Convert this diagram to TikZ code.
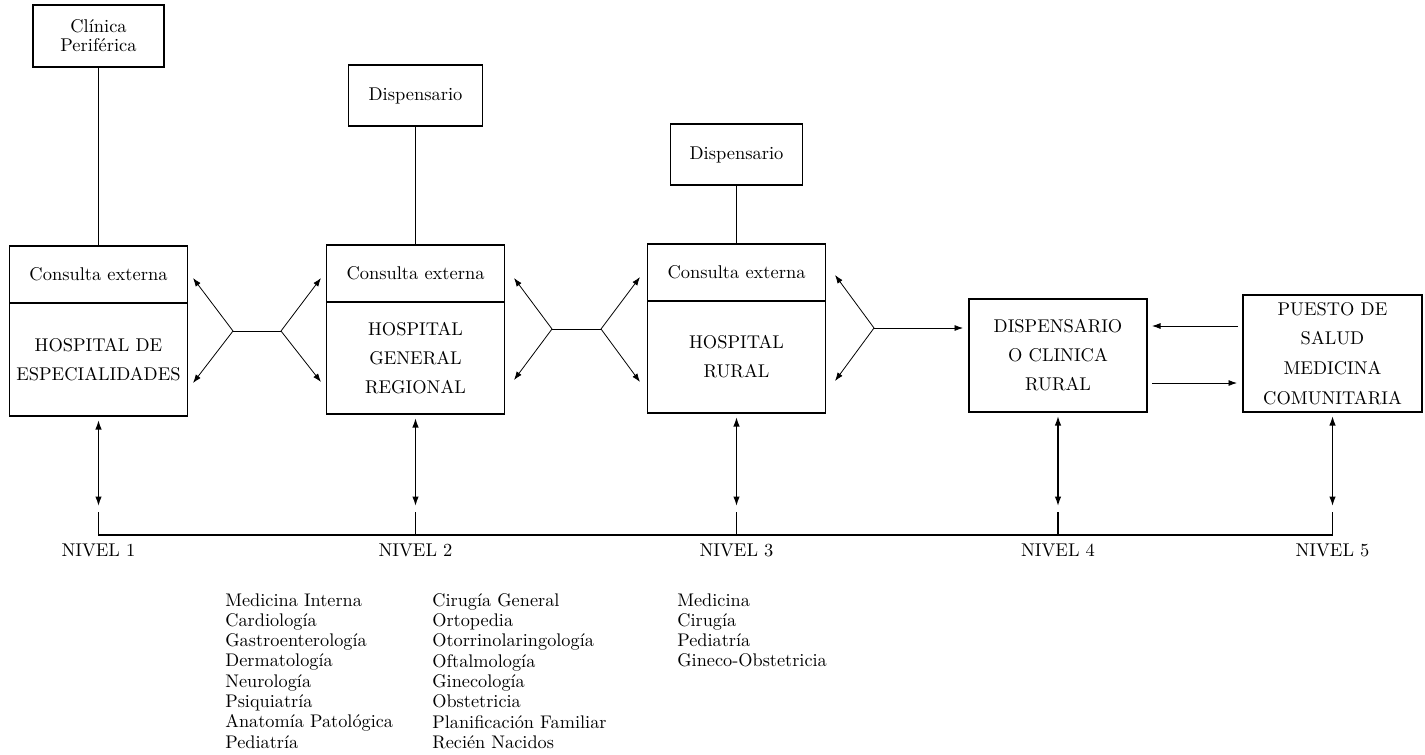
\documentclass[tikz,border=0pt]{standalone}
\usepackage{tikz}
\usetikzlibrary{arrows.meta,positioning}

\begin{document}
\begin{tikzpicture}[x=0.02cm, y=-0.02cm, every node/.style={font=\fontsize{10.5}{12}\selectfont}, box/.style={draw, line width=0.7pt, outer sep=0pt, inner sep=1pt, align=center}, unit/.style={box, minimum width=3.56cm}, topbox/.style={box, minimum height=1.22cm}, caps/.style={font=\fontsize{10.5}{16.5}\selectfont}, link/.style={line width=0.45pt}, arr/.style={-{Latex[length=1.7mm,width=1.2mm]}, line width=0.45pt}, dbl/.style={{Latex[length=1.9mm,width=1.3mm]}-{Latex[length=1.9mm,width=1.3mm]}, line width=0.8pt, shorten <=2.3pt, shorten >=3.4pt}, level/.style={line width=0.9pt}, list/.style={anchor=north west, align=left, inner sep=0pt, font=\fontsize{10.4}{11.55}\selectfont}]
\useasboundingbox (0,0) rectangle (1425,754);
\node[topbox, minimum width=2.62cm, minimum height=1.24cm, font=\fontsize{10.5}{10.8}\selectfont] (cp) at (98.5,36) {Clínica\\Periférica};
\node[topbox, minimum width=2.68cm] (ds2) at (415.5,95.5) {Dispensario};
\node[topbox, minimum width=2.64cm] (ds3) at (736.5,154.5) {Dispensario};
\node[unit, minimum height=1.14cm] (ce1) at (98.5,274.5) {Consulta externa};
\node[unit, caps, minimum height=2.26cm, below=0pt of ce1] (h1) {HOSPITAL DE\\ESPECIALIDADES};
\node[unit, minimum height=1.14cm] (ce2) at (415.5,273.5) {Consulta externa};
\node[unit, caps, minimum height=2.24cm, below=0pt of ce2] (h2) {HOSPITAL\\GENERAL\\REGIONAL};
\node[unit, minimum height=1.14cm] (ce3) at (736.5,272.5) {Consulta externa};
\node[unit, caps, minimum height=2.24cm, below=0pt of ce3] (h3) {HOSPITAL\\RURAL};
\node[unit, caps, minimum height=2.26cm] (d4) at (1058,355.5) {DISPENSARIO\\O CLINICA\\RURAL};
\node[unit, minimum width=3.58cm, minimum height=2.34cm, font=\fontsize{10.5}{17}\selectfont] (p5) at (1332.5,353.5) {PUESTO DE\\SALUD\\MEDICINA\\COMUNITARIA};
\draw[link] (cp) -- (ce1);
\draw[link] (ds2) -- (ce2);
\draw[link] (ds3) -- (ce3);
% enlaces entre niveles
\coordinate (j1a) at (233,331); \coordinate (j1b) at (281,331);
\coordinate (j2a) at (552,329); \coordinate (j2b) at (601,329);
\coordinate (j3) at (874,328);
\coordinate (t1a) at (193,278); \coordinate (t1b) at (193,383);
\coordinate (t1c) at (321,278); \coordinate (t1d) at (321,382);
\coordinate (t2a) at (514,278); \coordinate (t2b) at (514,380);
\coordinate (t2c) at (640,277); \coordinate (t2d) at (640,382);
\coordinate (t3a) at (835,275); \coordinate (t3b) at (835,381);
\draw[link] (j1a) -- (j1b);
\draw[arr] (j1a) -- (t1a);
\draw[arr] (j1a) -- (t1b);
\draw[arr] (j1b) -- (t1c);
\draw[arr] (j1b) -- (t1d);
\draw[link] (j2a) -- (j2b);
\draw[arr] (j2a) -- (t2a);
\draw[arr] (j2a) -- (t2b);
\draw[arr] (j2b) -- (t2c);
\draw[arr] (j2b) -- (t2d);
\draw[arr] (j3) -- (t3a);
\draw[arr] (j3) -- (t3b);
\draw[arr, shorten >=3.4pt] (j3) -- (j3 -| d4.west);
\coordinate (m1) at (1238,326); \coordinate (m2) at (1152,326);
\coordinate (m3) at (1152,383); \coordinate (m4) at (1237,383);
\draw[arr] (m1) -- (m2);
\draw[arr] (m3) -- (m4);
% niveles
\foreach \n/\x in {1/98.5,2/415.5,3/736.5,4/1058,5/1332.5} {
  \coordinate (k\n) at (\x,512);
  \coordinate (b\n) at (\x,535);
  \node (nv\n) at (\x,550) {NIVEL \n};
}
\draw[dbl] (h1) -- (k1);
\draw[dbl] (h2) -- (k2);
\draw[dbl] (h3) -- (k3);
\draw[dbl] (d4) -- (k4);
\draw[dbl] (p5) -- (k5);
\draw[level] (k1) -- (b1) -- (b5) -- (k5);
\foreach \n in {2,3,4} \draw[level] (k\n) -- (b\n);
\node[list] (esp1) at (225,593) {Medicina Interna\\Cardiología\\Gastroenterología\\Dermatología\\Neurología\\Psiquiatría\\Anatomía Patológica\\Pediatría};
\node[list] (esp2) at (432,593) {Cirugía General\\Ortopedia\\Otorrinolaringología\\Oftalmología\\Ginecología\\Obstetricia\\Planificación Familiar\\Recién Nacidos};
\node[list] (esp3) at (677,593) {Medicina\\Cirugía\\Pediatría\\Gineco-Obstetricia};
\end{tikzpicture}
\end{document}
